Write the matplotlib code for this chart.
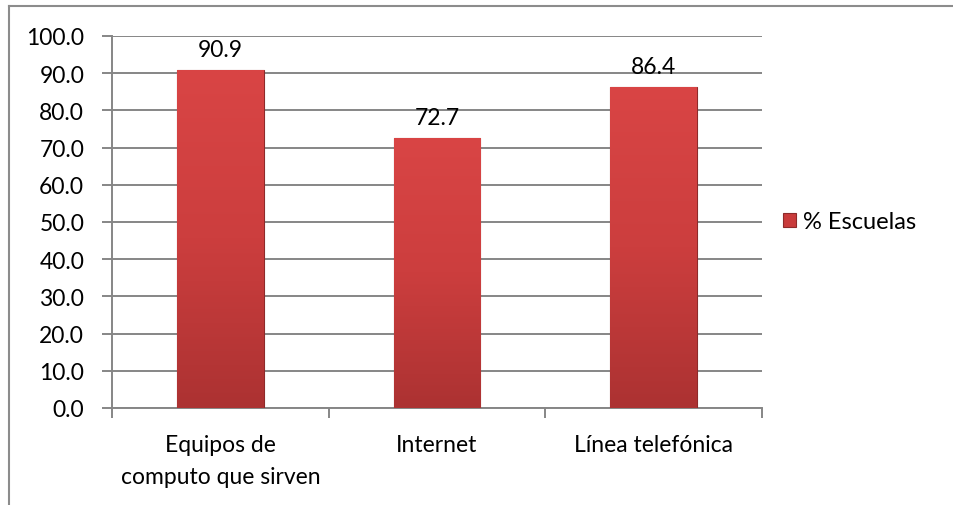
import matplotlib.pyplot as plt
import numpy as np
from matplotlib.lines import Line2D
from matplotlib.colors import LinearSegmentedColormap

plt.rcParams['font.family'] = ['Lato', 'DejaVu Sans']

categories = ['Equipos de\ncomputo que sirven', 'Internet', 'Línea telefónica']
values = [90.9, 72.7, 86.4]
series_name = '% Escuelas'
yticks = np.arange(0, 101, 10)

fig = plt.figure(figsize=(9.54, 5.06), dpi=100)
ax = fig.add_axes([0.1174, 0.1917, 0.6813, 0.7352])

x = np.arange(len(categories))
bars = ax.bar(x, values, width=0.4, color='#C93B3B', edgecolor='#8E2A2A',
              linewidth=0.8, label=series_name, zorder=3)

# vertical gradient inside each bar
cmap = LinearSegmentedColormap.from_list('redgrad', ['#D94545', '#CC3E3E', '#AC3232'])
grad = np.linspace(0, 1, 256).reshape(-1, 1)
for b in bars:
    x0, y0 = b.get_x(), b.get_y()
    im = ax.imshow(grad, cmap=cmap, aspect='auto', zorder=3.5,
                   extent=[x0, x0 + b.get_width(), y0, y0 + b.get_height()],
                   origin='upper')
    im.set_clip_path(b)

for xi, v in zip(x, values):
    ax.annotate(f'{v:.1f}', (xi, v), xytext=(0, 7), textcoords='offset points',
                ha='center', va='bottom', fontsize=16.5)

ax.set_xlim(-0.5, len(categories) - 0.5)
ax.set_ylim(0, 100)
ax.set_yticks(yticks)
ax.set_yticklabels([f'{t:.1f}' for t in yticks], fontsize=16.5)
ax.yaxis.grid(True, color='#868686', linewidth=1.4, zorder=0)
ax.set_axisbelow(True)

ax.set_xticks(x)
ax.set_xticklabels(categories, fontsize=16.5, linespacing=1.6)
ax.set_xticks(np.arange(-0.5, len(categories), 1), minor=True)
ax.tick_params(axis='x', which='major', length=0, pad=19)
ax.tick_params(axis='x', which='minor', length=7, color='#868686', width=1.4)
ax.tick_params(axis='y', length=7, color='#868686', width=1.4, pad=13)

for s in ['top', 'right']:
    ax.spines[s].set_visible(False)
for s in ['left', 'bottom']:
    ax.spines[s].set_color('#868686')
    ax.spines[s].set_linewidth(1.4)

ax.legend(handles=[bars], labels=[series_name], loc='center left',
          bbox_to_anchor=(1.0, 0.5), frameon=False, fontsize=17,
          handlelength=0.55, handleheight=0.55, handletextpad=0.3)

# outer chart frame (only top and left edges are visible)
fig.add_artist(Line2D([9 / 954, 1], [1 - 7 / 506, 1 - 7 / 506],
                      transform=fig.transFigure, color='#8C8C8C', linewidth=1.5))
fig.add_artist(Line2D([9 / 954, 9 / 954], [0, 1 - 7 / 506],
                      transform=fig.transFigure, color='#8C8C8C', linewidth=1.5))

fig.savefig('out.png', dpi=100)
